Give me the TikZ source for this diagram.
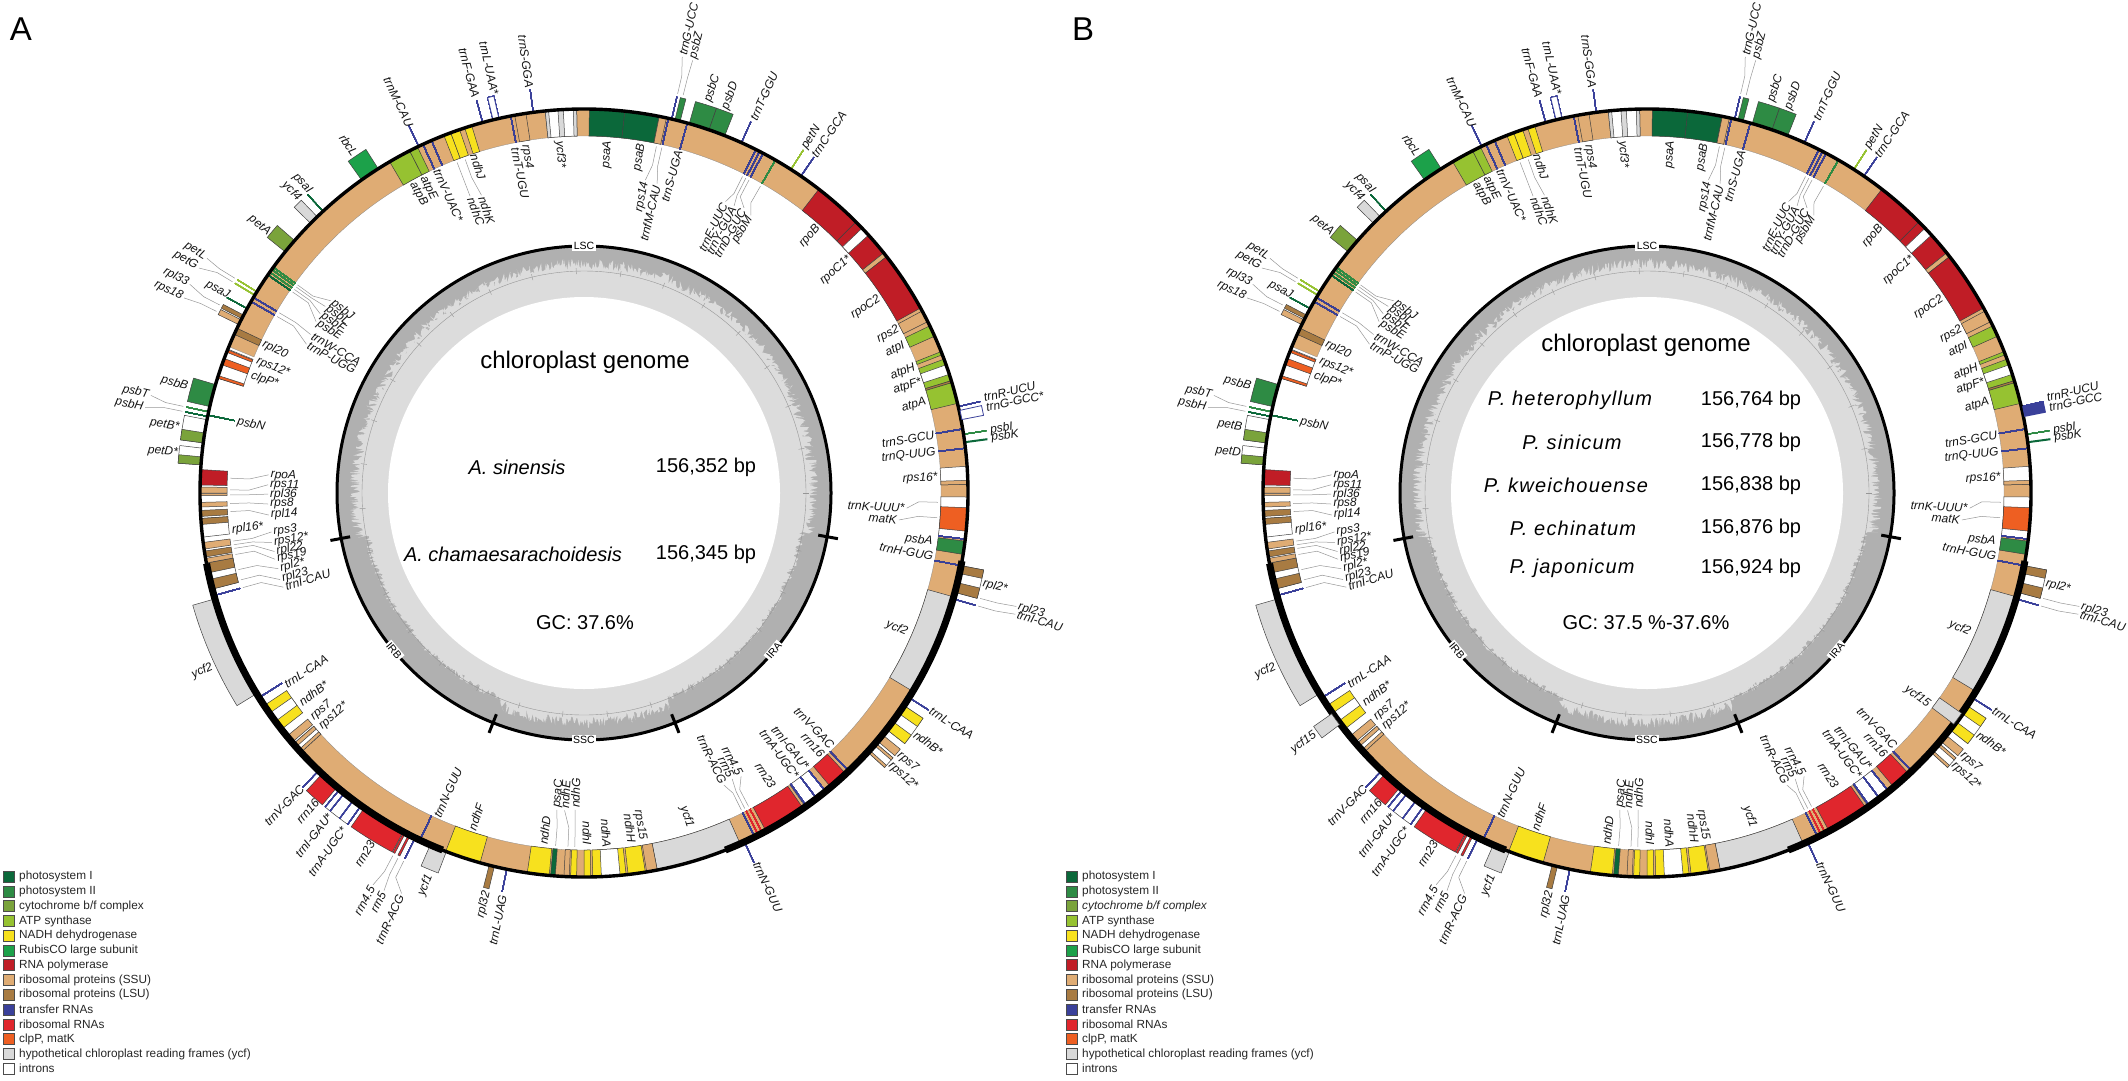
\documentclass[tikz,border=0pt]{standalone}
\usepackage{fontspec}
\setmainfont{Liberation Sans}
\usetikzlibrary{positioning}
\definecolor{psone}{RGB}{11, 104, 58}
\definecolor{pstwo}{RGB}{46, 139, 68}
\definecolor{cytbf}{RGB}{122, 163, 59}
\definecolor{atpsyn}{RGB}{150, 194, 49}
\definecolor{ndhyel}{RGB}{247, 225, 30}
\definecolor{rubisco}{RGB}{28, 161, 74}
\definecolor{rnapol}{RGB}{192, 29, 38}
\definecolor{ssutan}{RGB}{223, 172, 116}
\definecolor{lsubrown}{RGB}{168, 123, 66}
\definecolor{trnablue}{RGB}{58, 64, 154}
\definecolor{rrnared}{RGB}{224, 38, 45}
\definecolor{clpmat}{RGB}{238, 95, 34}
\definecolor{ycfgrey}{RGB}{217, 217, 217}
\definecolor{gcdark}{RGB}{176, 176, 176}
\definecolor{gclight}{RGB}{220, 220, 220}
\definecolor{leadergrey}{RGB}{150, 150, 150}
\tikzset{
    genebox/.style={draw=black!75, line width=0.5pt},
    genename/.style={font=\fontsize{12}{12}\selectfont\itshape, inner sep=0pt, text=black!92},
    leaderline/.style={draw=leadergrey, line width=0.5pt},
    regionname/.style={font=\fontsize{10.5}{11}\selectfont, fill=white, inner sep=1.5pt},
    bigtext/.style={font=\fontsize{20}{22}\selectfont, inner sep=0pt},
    speciesname/.style={font=\fontsize{20}{22}\selectfont\itshape\addfontfeatures{LetterSpace=6}, inner sep=0pt},
    legendswatch/.style={draw=black!70, line width=0.7pt, minimum size=11pt, inner sep=0pt},
    legendname/.style={font=\fontsize{11.8}{12}\selectfont, inner sep=0pt, text=black!85, anchor=west}
}
\newcommand{\genesector}[5]{\path[#5] (90-#1:#3) arc[start angle=90-#1, end angle=90-#2, radius=#3] -- (90-#2:#4) arc[start angle=90-#2, end angle=90-#1, radius=#4] -- cycle;}
% one whole circle: #1 centre x, #2 star on petB/petD/trnG, #3 seed
\newcommand{\genemap}[3]{
\begin{scope}[shift={(#1,-493)}]
% gc circle
\fill[gcdark] (0,0) circle (247);
\pgfmathsetseed{#3}
\fill[gclight] plot[domain=90:-10, samples=450] (\x:{223+12*rnd}) -- plot[domain=-10:-68, samples=260] (\x:{217+8*rnd}) -- plot[domain=-68:-112, samples=200] (\x:{223+12*rnd}) -- plot[domain=-112:-169, samples=260] (\x:{217+8*rnd}) -- plot[domain=-169:-270, samples=450] (\x:{223+12*rnd}) -- cycle;
\fill[white] (0,0) circle (196);
\draw[leadergrey, line width=0.4pt] (0,0) circle (222);
\foreach \a in {0,11.5,...,350} \draw[leadergrey, line width=0.4pt] (\a:219) -- (\a:225);
\draw[line width=3pt] (0,0) circle (247);
\foreach \a in {100.2,158.4,201.6,259.4} \draw[line width=3pt] (90-\a:238) -- (90-\a:258);
\node[regionname] (lsc) at (90:247) {LSC};
\node[regionname, rotate=50] (ira) at (90-129.7:247) {IRA};
\node[regionname] (ssc) at (-90:247) {SSC};
\node[regionname, rotate=-50] (irb) at (90-230.3:247) {IRB};
% the long tan lane
\genesector{292.4}{589.2}{357}{384}{fill=ssutan, draw=black!45, line width=0.3pt}
% genes inside the line
\foreach \a/\b/\c in {
 .8/6.1/psone, 6.1/11.3/psone, 11.3/12.4/ssutan, 37.7/45.1/rnapol, 45.1/51.3/rnapol, 46.4/47.8/white,
 51.3/52/ssutan, 52/61.2/rnapol, 61.7/63.5/ssutan, 64.2/65.9/atpsyn, 68.4/68.9/atpsyn, 69.6/73/atpsyn,
 70.5/72/white, 73/73.3/lsubrown, 73.3/76.5/atpsyn, 86/88.7/white, 88.1/88.7/ssutan, 90.6/96.9/white,
 92.2/95.7/clpmat, 97.2/99.2/pstwo, 105.7/121.1/ycfgrey, 137/140/rrnared, 141/144.8/white, 145.2/151.7/rrnared,
 156/169/ycfgrey, 169/170.6/ssutan, 170.8/173.4/ndhyel, 173.7/178.7/ndhyel, 174.6/177.4/white, 179/180/ndhyel,
 181.1/182/ndhyel, 182.2/183/ssutan, 184.3/185/psone, 185.2/188.5/ndhyel, 195.7/201.1/ndhyel,
 227.5/229.2/white, 227.5/228/ssutan, 228.6/229.2/ssutan, 229.5/230.7/ssutan, 232/236.4/ndhyel, 233.5/235/white,
 255.5/259.5/white, 255.5/257/lsubrown, 258/259.5/lsubrown, 259.5/260.2/ssutan, 260.4/261.3/lsubrown,
 261.6/262.6/ssutan, 263.4/266.2/white, 265.3/266.2/lsubrown, 266.5/267.4/lsubrown, 267.9/268.6/ssutan,
 269.6/269.9/ssutan, 270/270.9/ssutan, 271.2/273.5/rnapol, 287.4/292/white, 287.4/287.8/clpmat,
 289.5/290.5/clpmat, 291.5/291.9/clpmat, 294.4/295.4/lsubrown, 329.6/333/atpsyn, 333/334.3/atpsyn,
 338.6/339.7/ndhyel, 339.7/341.1/ndhyel, 341.9/343/ndhyel, 349.6/351.3/ssutan, 354.2/358.9/white,
 354.2/354.7/ycfgrey, 356.1/356.9/ycfgrey, 358.4/358.9/ycfgrey}
 \genesector{\a}{\b}{357}{384}{genebox, fill=\c}
\foreach \t/\c in {
 12.7/trnablue, 15.6/trnablue, 26.6/trnablue, 27.2/trnablue, 27.8/trnablue, 29.9/pstwo, 80.4/trnablue,
 83.3/trnablue, 96.9/trnablue, 100.9/trnablue, 136.4/trnablue, 141/trnablue, 142.7/trnablue, 144.6/trnablue,
 152.3/rrnared, 153/rrnared, 153.6/trnablue, 205.3/trnablue, 237.8/trnablue, 299.9/trnablue, 300.6/trnablue,
 304.6/psone, 305.1/pstwo, 305.6/pstwo, 306/pstwo, 281.7/psone, 254.5/trnablue, 335.2/trnablue, 336.6/trnablue, 349/trnablue}
 \draw[\c, line width=0.9pt] (90-\t:357) -- (90-\t:384);
% genes outside the line
\foreach \a/\b/\c in {
 13.7/14.5/pstwo, 15.9/19/pstwo, 19/21.5/pstwo, 100.9/105/white, 100.9/102.1/lsubrown, 103.5/105/lsubrown,
 123.6/128/white, 123.6/125/ndhyel, 126.5/128/ndhyel, 129/130.2/ssutan, 130.6/132.4/white, 130.6/131/ssutan, 132/132.4/ssutan,
 193.5/194.3/lsubrown, 201/203.6/ycfgrey, 206.9/207.2/rrnared, 207.7/208/rrnared, 208.1/214.9/rrnared,
 215.5/219.5/white, 220/223/rrnared, 238.5/254/ycfgrey, 274.2/276.7/white, 274.2/275.4/cytbf, 277.5/281/white,
 277.5/279/cytbf, 283/286.4/pstwo, 296/296.8/ssutan, 297/297.6/lsubrown, 308.9/311.1/cytbf, 314.6/316/ycfgrey,
 324.6/327.6/rubisco}
 \genesector{\a}{\b}{385}{407}{genebox, fill=\c}
\genesector{346.3}{347.2}{385}{407}{draw=trnablue, line width=0.8pt, fill=white}
\foreach \t/\c in {
 13.2/trnablue, 24.2/trnablue, 32.6/atpsyn, 34.4/trnablue, 77/trnablue, 81.2/pstwo, 106/trnablue, 122.2/trnablue,
 155.3/trnablue, 191.6/trnablue, 206.1/trnablue, 216.9/trnablue, 218.6/trnablue, 215.5/trnablue, 219.5/trnablue,
 223.7/trnablue, 281.5/psone, 282.2/pstwo, 298.7/psone, 301/atpsyn, 301.6/atpsyn, 317.2/psone, 334.5/trnablue,
 344.7/trnablue, 352.4/trnablue}
 \draw[\c, line width=0.9pt] (90-\t:385) -- (90-\t:407);
\draw[psone, line width=2pt] (90-82.4:385) -- (90-82.4:407);
% leaders
\foreach \t/\p/\r in {
 11.8/11.1/317, 12.7/13.3/316, 26.6/25.9/322, 27.2/27.6/322, 27.8/29.3/325, 29.9/31/322, 91.5/92.7/321, 94/94.9/314,
 152.3/151/322, 153/152.6/320, 153.6/154.4/322, 181.5/181.6/315, 182.6/183.5/316, 184.6/184.9/316, 254.5/252.6/313,
 255.8/254.1/314, 257.5/256.1/313, 260/257.9/314, 261/259.3/313, 261.6/261/314, 262.2/262.9/313, 267/266/314,
 268.3/268/314, 269.7/269.8/314, 270.5/271.5/314, 272.4/273.3/314, 299.9/298.2/313, 300.6/300.1/314, 304.6/302.6/316,
 305.1/304.2/317, 305.6/305.8/317, 306/307.2/316, 339/339/316, 340.4/341/313}
 \draw[leaderline] (90-\t:354) -- (90-\t:335) -- (90-\p:\r+2);
\foreach \t/\p/\r in {
 13.2/12.7/449, 14/14.1/448, 104.9/104.7/449, 106/105.7/450, 206.1/204.5/442, 207/206.7/447, 207.8/208.3/447,
 281.5/281/449, 282.2/282.7/446, 296.3/296/447, 297.3/297.9/448, 301/300.3/448, 301.6/301.9/446}
 \draw[leaderline] (90-\t:410) -- (90-\t:428) -- (90-\p:\r-2);
% thick and thin outer line
\draw[line width=3.4pt] (0,0) circle (384);
\foreach \a/\b in {100.2/158.4, 201.6/259.4} \draw[line width=7pt] (90-\a:384) arc[start angle=90-\a, end angle=90-\b, radius=384];
% names, right half, outside
\foreach \p/\r/\txt in {
 12.7/449/trnG-UCC, 14.1/448/psbZ, 17.6/410/psbC, 20.2/409/psbD, 24.4/410/trnT-GGU, 32.6/409/petN, 34.3/408/trnC-GCA,
 76.6/411/trnR-UCU, 78/411/trnG-GCC#2, 81.2/411/psbI, 82.3/411/psbK, 102.8/409/rpl2*, 104.7/449/rpl23, 105.7/450/trnI-CAU,
 122.1/409/trnL-CAA, 126/409/ndhB*, 129.7/409/rps7, 131.6/409/rps12*, 155/408/trnN-GUU}
 \node[genename, anchor=west, rotate=90-\p] at (90-\p:\r) {\txt};
% names, right half, inside
\foreach \p/\r/\txt in {
 3.9/353/psaA, 9.4/354/psaB, 11.1/317/rps14, 13.3/316/trnfM-CAU, 15.5/355/trnS-UGA, 25.9/322/trnE-UUC, 27.6/322/trnY-GUA,
 29.3/325/trnD-GUC, 31/322/psbM, 41.3/355/rpoB, 48.5/355/rpoC1*, 56.6/354/rpoC2, 62.4/355/rps2, 65.2/353/atpI, 69.2/354/atpH,
 71.8/355/atpF*, 75.1/354/atpA, 80.6/355/trnS-GCU, 83.4/354/trnQ-UUG, 87.5/354/rps16*, 92.7/321/trnK-UUU*, 94.9/314/matK,
 98/352/psbA, 100.3/355/trnH-GUG, 113.4/352/ycf2, 135.6/355/trnV-GAC, 137.8/355/rrn16, 141/354/trnI-GAU*, 143.2/355/trnA-UGC*,
 147.3/350/rrn23, 151/322/rrn4.5, 152.6/320/rrn5, 154.4/322/trnR-ACG, 162.4/351/ycf1, 170.4/352/rps15, 172.2/353/ndhH,
 176.3/355/ndhA, 179.5/352/ndhI}
 \node[genename, anchor=east, rotate=90-\p] at (90-\p:\r) {\txt};
% names, left half, outside
\foreach \p/\r/\txt in {
 191.4/410/trnL-UAG, 193.7/410/rpl32, 202/412/ycf1, 204.5/442/trnR-ACG, 206.7/447/rrn5, 208.3/447/rrn4.5, 211.3/408/rrn23,
 215.6/412/trnA-UGC*, 218.3/410/trnI-GAU*, 221/407/rrn16, 223.8/407/trnV-GAC, 245/410/ycf2, 275.6/408/petD#2, 279.2/410/petB#2,
 281/449/psbH, 282.7/446/psbT, 285/410/psbB, 296/447/rps18, 297.9/448/rpl33, 299/406/psaJ, 300.3/448/petG, 301.9/446/petL,
 309.5/408/petA, 315.9/409/ycf4, 317.7/407/psaI, 325.9/408/rbcL, 334.6/406/trnM-CAU, 344.7/410/trnF-GAA, 347.4/408/trnL-UAA*,
 352.3/409/trnS-GGA}
 \node[genename, anchor=east, rotate=270-\p] at (90-\p:\r) {\txt};
% names, left half, inside
\foreach \p/\r/\txt in {
 181.6/315/ndhG, 183.5/316/ndhE, 184.9/316/psaC, 186.6/354/ndhD, 198.4/355/ndhF, 204.4/356/trnN-GUU, 228.3/353/rps12*, 230.4/353/rps7,
 233.5/353/ndhB*, 237.3/355/trnL-CAA, 252.6/313/trnI-CAU, 254.1/314/rpl23, 256.1/313/rpl2*, 257.9/314/rps19, 259.3/313/rpl22,
 261/314/rps12*, 262.9/313/rps3, 264/354/rpl16*, 266/314/rpl14, 268/314/rps8, 269.8/314/rpl36, 271.5/314/rps11, 273.3/314/rpoA,
 281.6/354/psbN, 289.5/353/clpP*, 292/353/rps12*, 294.9/354/rpl20, 298.2/313/trnP-UGG, 300.1/314/trnW-CCA, 302.6/316/psbE,
 304.2/317/psbF, 305.8/317/psbL, 307.2/316/psbJ, 331/354/atpB, 333/355/atpE, 335.5/355/trnV-UAC*, 339/316/ndhC, 341/313/ndhK,
 342/356/ndhJ, 348.7/352/trnT-UGU, 350.4/353/rps4, 356/353/ycf3*}
 \node[genename, anchor=west, rotate=270-\p] at (90-\p:\r) {\txt};
\end{scope}
}
% legend: #1 x shift, #2 font of the b/f line
\newcommand{\legendlist}[2]{
\foreach \n/\c/\txt [count=\i from 0] in {
 1/psone/{photosystem I}, 2/pstwo/{photosystem II}, 3/cytbf/{#2cytochrome b/f complex}, 4/atpsyn/{ATP synthase},
 5/ndhyel/{NADH dehydrogenase}, 6/rubisco/{RubisCO large subunit}, 7/rnapol/{RNA polymerase},
 8/ssutan/{ribosomal proteins (SSU)}, 9/lsubrown/{ribosomal proteins (LSU)}, 10/trnablue/{transfer RNAs},
 11/rrnared/{ribosomal RNAs}, 12/clpmat/{clpP, matK}, 13/ycfgrey/{hypothetical chloroplast reading frames (ycf)}, 14/white/{introns}}
 {
 \node[legendswatch, fill=\c] (swatch\n) at (#1+9,-876.7-14.77*\i) {};
 \node[legendname] at (#1+19,-876.7-14.77*\i) {\txt};
 }
}

\begin{document}
\begin{tikzpicture}[x=1pt, y=1pt]
\useasboundingbox (0,0) rectangle (2128,-1080);

\node[font=\fontsize{33}{34}\selectfont, inner sep=0pt] (panela) at (21,-29) {A};
\node[font=\fontsize{33}{34}\selectfont, inner sep=0pt] (panelb) at (1083,-29) {B};

\genemap{584}{*}{11}
\genemap{1647}{}{23}

% only on the left circle
\begin{scope}[shift={(584,-493)}]
\genesector{77.6}{79}{385}{407}{draw=trnablue, line width=0.8pt, fill=white}
\end{scope}

% only on the right circle
\begin{scope}[shift={(1647,-493)}]
\genesector{77}{78.6}{385}{407}{fill=trnablue}
\genesector{125}{127}{357}{384}{genebox, fill=ycfgrey}
\genesector{233}{235}{385}{407}{genebox, fill=ycfgrey}
\node[genename, anchor=east, rotate=90-127] at (90-127:353) {ycf15};
\node[genename, anchor=east, rotate=270-234] at (90-234:410) {ycf15};
\end{scope}

% texts in the circles
\node[font=\fontsize{24}{26}\selectfont, inner sep=0pt] (titlea) at (585,-362) {chloroplast genome};
\node[bigtext, font=\fontsize{20}{22}\selectfont\itshape] (sina) at (517,-467) {A. sinensis};
\node[bigtext] (sinb) at (706,-467) {156,352 bp};
\node[bigtext, font=\fontsize{20}{22}\selectfont\itshape] (chaa) at (513,-554) {A. chamaesarachoidesis};
\node[bigtext] (chab) at (706,-554) {156,345 bp};
\node[bigtext] (gca) at (585,-623) {GC: 37.6\%};

\node[font=\fontsize{24}{26}\selectfont, inner sep=0pt] (titleb) at (1646,-345) {chloroplast genome};
\foreach \y/\x/\sp in {400/1570/P. heterophyllum, 442/1572/P. sinicum, 485/1566/P. kweichouense, 528/1573/P. echinatum, 568/1572/P. japonicum}
 \node[speciesname] at (\x,-\y) {\sp};
\foreach \y/\bp in {400/{156,764 bp}, 442/{156,778 bp}, 485/{156,838 bp}, 528/{156,876 bp}, 568/{156,924 bp}}
 \node[bigtext] at (1751,-\y) {\bp};
\node[bigtext] (gcb) at (1646,-623) {GC: 37.5 \%-37.6\%};

\legendlist{0}{}
\legendlist{1063}{\itshape}
\end{tikzpicture}
\end{document}
